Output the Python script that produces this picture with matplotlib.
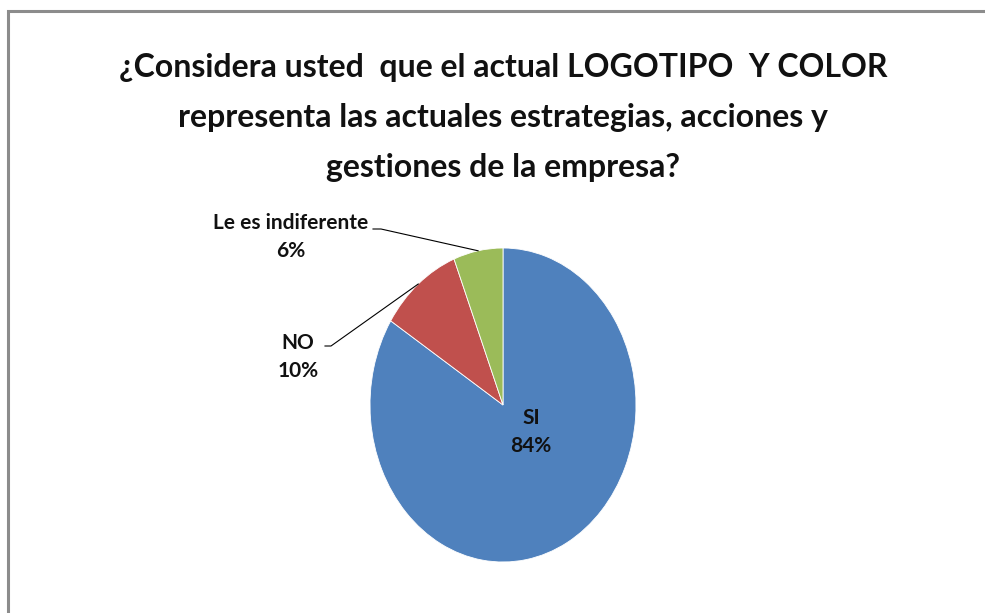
import numpy as np
import matplotlib
matplotlib.use("Agg")
import matplotlib.pyplot as plt
from matplotlib.patches import Rectangle

categories = ["SI", "NO", "Le es indiferente"]
values = [84, 10, 6]
colors = ["#4F81BD", "#C0504D", "#9BBB59"]
title_lines = ["¿Considera usted  que el actual LOGOTIPO  Y COLOR",
               "representa las actuales estrategias, acciones y",
               "gestiones de la empresa?"]

FONT = ["Lato", "DejaVu Sans"]

W, H = 985, 613
fig = plt.figure(figsize=(W / 100, H / 100), dpi=100)
fig.patch.set_facecolor("white")

# frame border
fig.add_artist(Rectangle((8 / W, -0.1), 1.2, (H - 11) / H + 0.1, transform=fig.transFigure,
                         fill=False, edgecolor="#8c8c8c", linewidth=2.2))

for i, line in enumerate(title_lines):
    fig.text(503 / W, (H - (68 + 50 * i)) / H, line, ha="center", va="center", fontsize=23,
             fontweight="bold", family=FONT, color="#111111")

cx, cy, rx, ry = 503, 405, 133, 157
ax = fig.add_axes([(cx - rx) / W, (H - cy - ry) / H, 2 * rx / W, 2 * ry / H])
wedges, _ = ax.pie(values, colors=colors, startangle=90, counterclock=False,
                   wedgeprops=dict(edgecolor="white", linewidth=0.6))
ax.set_aspect("auto")
ax.set_xlim(-1, 1)
ax.set_ylim(-1, 1)
ax.axis("off")

def px(x, y):
    return ((x - cx) / rx, (cy - y) / ry)

total = sum(values)
fr = np.cumsum([0] + values) / total
mids = 90 - 360 * (fr[:-1] + fr[1:]) / 2
pts = [(np.cos(np.radians(a)), np.sin(np.radians(a))) for a in mids]

lab_kw = dict(ha="center", va="center", fontsize=15, fontweight="bold",
              family=FONT, linespacing=1.45, color="#111111")

# SI label inside
ax.text(*px(531, 432), f"{categories[0]}\n{values[0]}%", **lab_kw)

# NO label with leader
ax.text(*px(298, 357), f"{categories[1]}\n{values[1]}%", **lab_kw)
x0, y0 = px(325, 346)
x1, y1 = px(331, 346)
ax.plot([x0, x1, pts[1][0]], [y0, y1, pts[1][1]], color="black", lw=0.8, clip_on=False)

# Le es indiferente label with leader
ax.text(*px(291, 237), f"{categories[2]}\n{values[2]}%", **lab_kw)
x0, y0 = px(373, 229)
x1, y1 = px(381, 229)
ax.plot([x0, x1, pts[2][0]], [y0, y1, pts[2][1]], color="black", lw=0.8, clip_on=False)

fig.savefig("out.png", dpi=100, facecolor="white")
